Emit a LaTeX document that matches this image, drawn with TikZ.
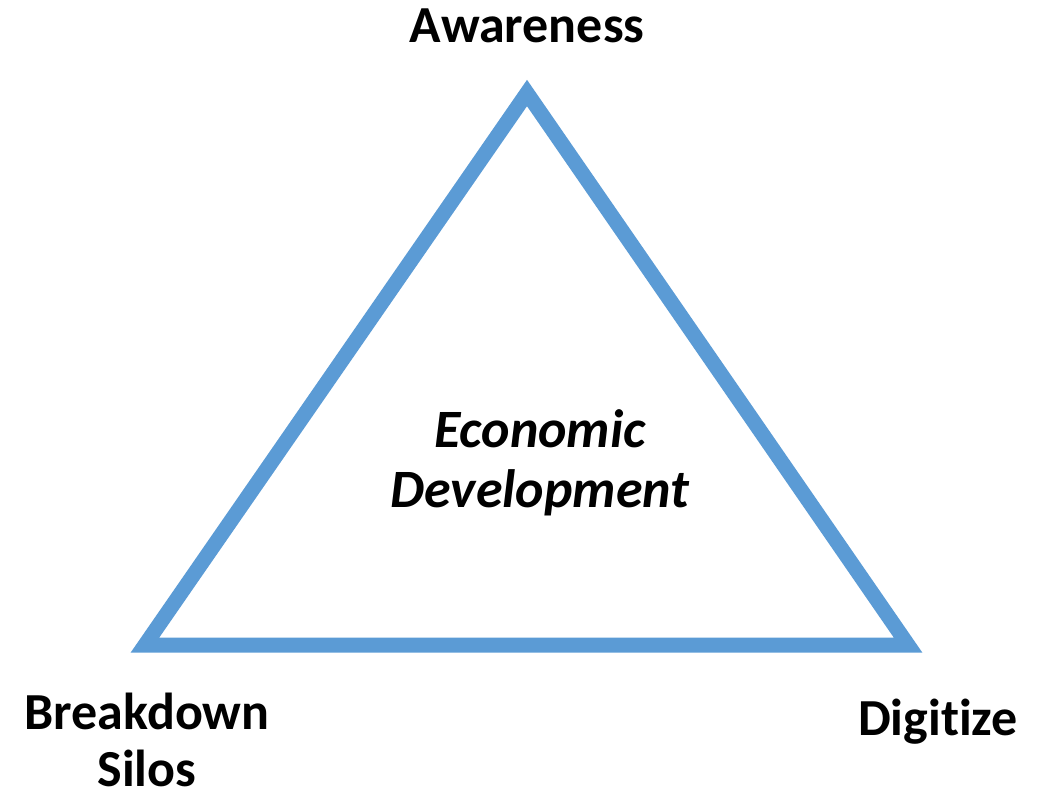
\documentclass[tikz,border=0pt]{standalone}
\usepackage{fontspec}
\setmainfont{Carlito}[Ligatures={NoCommon,NoRare,NoDiscretionary}]
\definecolor{triblue}{HTML}{5B9BD5}
\tikzset{
  edge/.style={draw=triblue, line width=15pt, line join=miter},
  lbl/.style={font=\fontsize{52}{57}\selectfont\bfseries, inner sep=0pt, align=center},
  mid/.style={font=\fontsize{54}{60}\selectfont\bfseries\itshape, inner sep=0pt, align=center}
}
\begin{document}
\begin{tikzpicture}[x=1pt,y=-1pt]
\useasboundingbox (0,0) rectangle (1051,800);
\coordinate (A) at (527,93);
\coordinate (B) at (145,645);
\coordinate (C) at (908,645);
\draw[edge] (A) -- (B) -- (C) -- cycle;
\node[lbl, anchor=base] (aw) at (527,42) {Awareness};
\node[lbl, anchor=base] (bd) at (147,786) {Breakdown\\Silos};
\node[lbl, anchor=base east] (dg) at (1018,735) {Digitize};
\node[mid, anchor=base] (ed) at (540,507) {Economic\\Development};
\end{tikzpicture}
\end{document}
